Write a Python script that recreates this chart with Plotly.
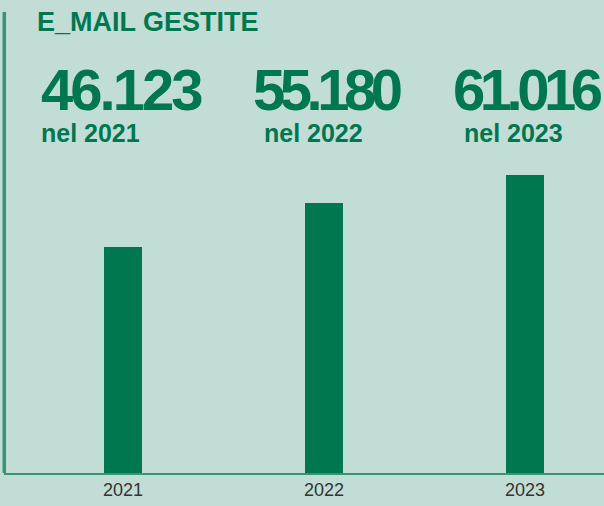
import plotly.graph_objects as go

# Data
years = ["2021", "2022", "2023"]
emails = [46123, 55180, 61016]
big_labels = ["46.123", "55.180", "61.016"]
sub_labels = ["nel 2021", "nel 2022", "nel 2023"]

BG = "#C2DDD5"
GREEN = "#00774F"
LINE_GREEN = "#3A9472"

W, H = 604, 506
ML, MB = 4, 33
PW, PH = W - ML, H - MB


def px_x(px):
    return (px - ML) / PW


def px_y(py):
    return (PH - py) / PH


fig = go.Figure(
    go.Bar(
        x=years,
        y=emails,
        width=0.189,
        marker=dict(color=GREEN, line=dict(width=0)),
        hoverinfo="x+y",
    )
)

annotations = [
    dict(
        text="<b>E_MAIL GESTITE</b>",
        x=px_x(34.5), y=px_y(21.7), xref="paper", yref="paper",
        xanchor="left", yanchor="middle", showarrow=False,
        font=dict(family="Liberation Sans, Arial", size=27, color=GREEN),
    )
]

big_left = [38.5, 251, 451]
big_spacing = [-3, -5.5, -5.5]
sub_left = [39, 262, 462]
for lbl, sub, bx, sp, sx in zip(big_labels, sub_labels, big_left, big_spacing, sub_left):
    annotations.append(dict(
        text=f"<b><span style='letter-spacing:{sp}px'>{lbl}</span></b>",
        x=px_x(bx), y=px_y(89.8), xref="paper", yref="paper",
        xanchor="left", yanchor="middle", showarrow=False,
        font=dict(family="Liberation Sans, Arial", size=58, color=GREEN),
    ))
    annotations.append(dict(
        text=f"<b>{sub}</b>",
        x=px_x(sx), y=px_y(133), xref="paper", yref="paper",
        xanchor="left", yanchor="middle", showarrow=False,
        font=dict(family="Liberation Sans, Arial", size=25, color=GREEN),
    ))

fig.update_layout(
    width=W, height=H,
    margin=dict(l=ML, r=0, t=0, b=MB, pad=0),
    paper_bgcolor=BG, plot_bgcolor=BG,
    showlegend=False,
    bargap=0,
    xaxis=dict(
        type="category",
        range=[-0.592, 2.393],
        showgrid=False, zeroline=False,
        showline=True, linecolor=LINE_GREEN, linewidth=1.5,
        ticks="",
        tickfont=dict(family="Liberation Sans, Arial", size=18, color="#333333"),
        fixedrange=True,
    ),
    yaxis=dict(
        range=[0, 96700],
        visible=False,
        fixedrange=True,
    ),
    annotations=annotations,
    shapes=[
        dict(
            type="line", xref="paper", yref="paper",
            x0=px_x(4.3), x1=px_x(4.3), y0=0, y1=px_y(12),
            line=dict(color=LINE_GREEN, width=3.5),
        )
    ],
)

fig.write_html("out.html")
